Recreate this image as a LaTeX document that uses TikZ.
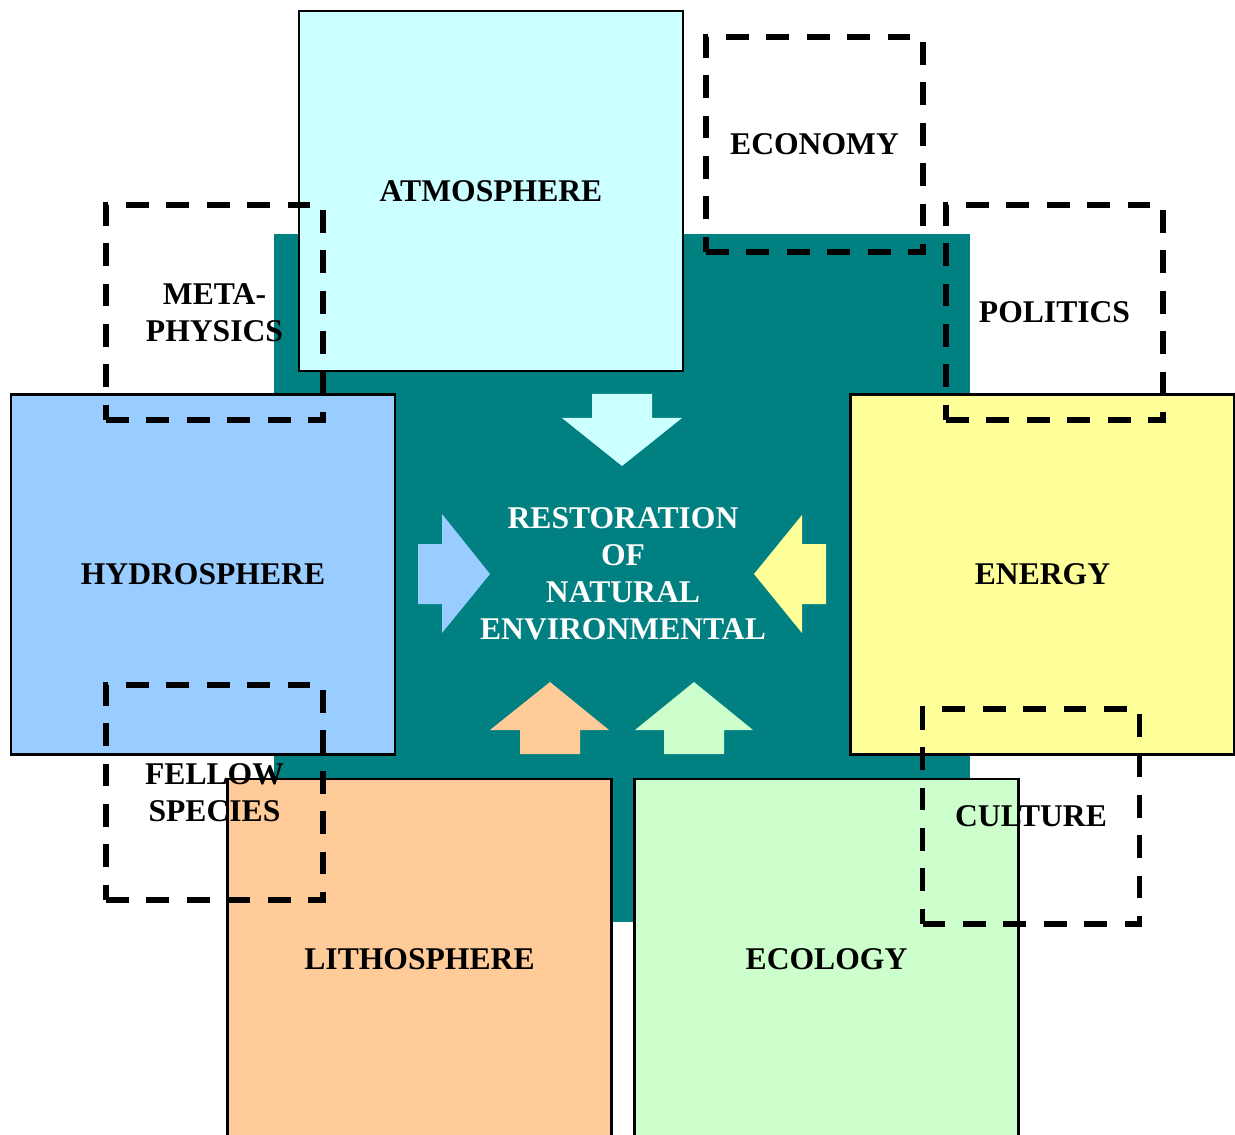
\documentclass[tikz,border=0pt]{standalone}
\usepackage{fontspec}
\setmainfont{Liberation Serif}
\usepackage{xcolor}
\definecolor{tealbg}{HTML}{008080}
\definecolor{atmocol}{HTML}{CCFFFF}
\definecolor{hydrocol}{HTML}{99CCFF}
\definecolor{energycol}{HTML}{FFFF99}
\definecolor{lithocol}{HTML}{FFCC99}
\definecolor{ecocol}{HTML}{CCFFCC}
\tikzset{
    sphere/.style={draw=black, line width=1.3pt, minimum width=7.68cm, minimum height=7.2cm, inner sep=0pt, font=\fontsize{18}{21}\selectfont\bfseries},
    dashbox/.style={draw=black, line width=3pt, dash pattern=on 13pt off 10pt, minimum width=4.34cm, minimum height=4.3cm, inner sep=0pt, align=center, font=\fontsize{18}{21}\selectfont\bfseries}
}

\begin{document}
\begin{tikzpicture}[x=0.02cm, y=-0.02cm]
    \useasboundingbox (0,0) rectangle (1235,1135);
    \clip (0,0) rectangle (1235,1135);
    % fond
    \fill[tealbg] (274,234) rectangle (970,922);
    % spheres
    \node[sphere, fill=atmocol] (atmos) at (491,191) {ATMOSPHERE};
    \node[sphere, fill=hydrocol] (hydro) at (203,574.5) {HYDROSPHERE};
    \node[sphere, fill=energycol] (energy) at (1042.5,574.5) {ENERGY};
    \node[sphere, fill=lithocol] (litho) at (419.5,959) {LITHOSPHERE};
    \node[sphere, fill=ecocol] (ecology) at (826.5,959) {ECOLOGY};
    % fleches
    \fill[atmocol] (592,394) -- (652,394) -- (652,418) -- (682,418) -- (622,466) -- (562,418) -- (592,418) -- cycle;
    \fill[hydrocol] (418,544) -- (442,544) -- (442,514) -- (490,574) -- (442,633) -- (442,604) -- (418,604) -- cycle;
    \fill[energycol] (826,544) -- (802,544) -- (802,515) -- (754,574) -- (802,633) -- (802,604) -- (826,604) -- cycle;
    \fill[lithocol] (520,754) -- (520,730) -- (490,730) -- (550,682) -- (609,730) -- (580,730) -- (580,754) -- cycle;
    \fill[ecocol] (664,754) -- (664,730) -- (635,730) -- (694,682) -- (753,730) -- (724,730) -- (724,754) -- cycle;
    % centre
    \node[text=white, align=center, font=\fontsize{18}{21}\selectfont\bfseries] (restore) at (623,574)
        {RESTORATION\\OF\\NATURAL\\ENVIRONMENTAL};
    % cadres en pointilles
    \node[dashbox] (economy) at (814.5,144.5) {ECONOMY};
    \node[dashbox] (metaphys) at (214.5,312.5) {META-\\PHYSICS};
    \node[dashbox] (politics) at (1054.5,312.5) {POLITICS};
    \node[dashbox] (fellow) at (214.5,792.5) {FELLOW\\SPECIES};
    \node[dashbox] (culture) at (1031,816.5) {CULTURE};
\end{tikzpicture}
\end{document}
